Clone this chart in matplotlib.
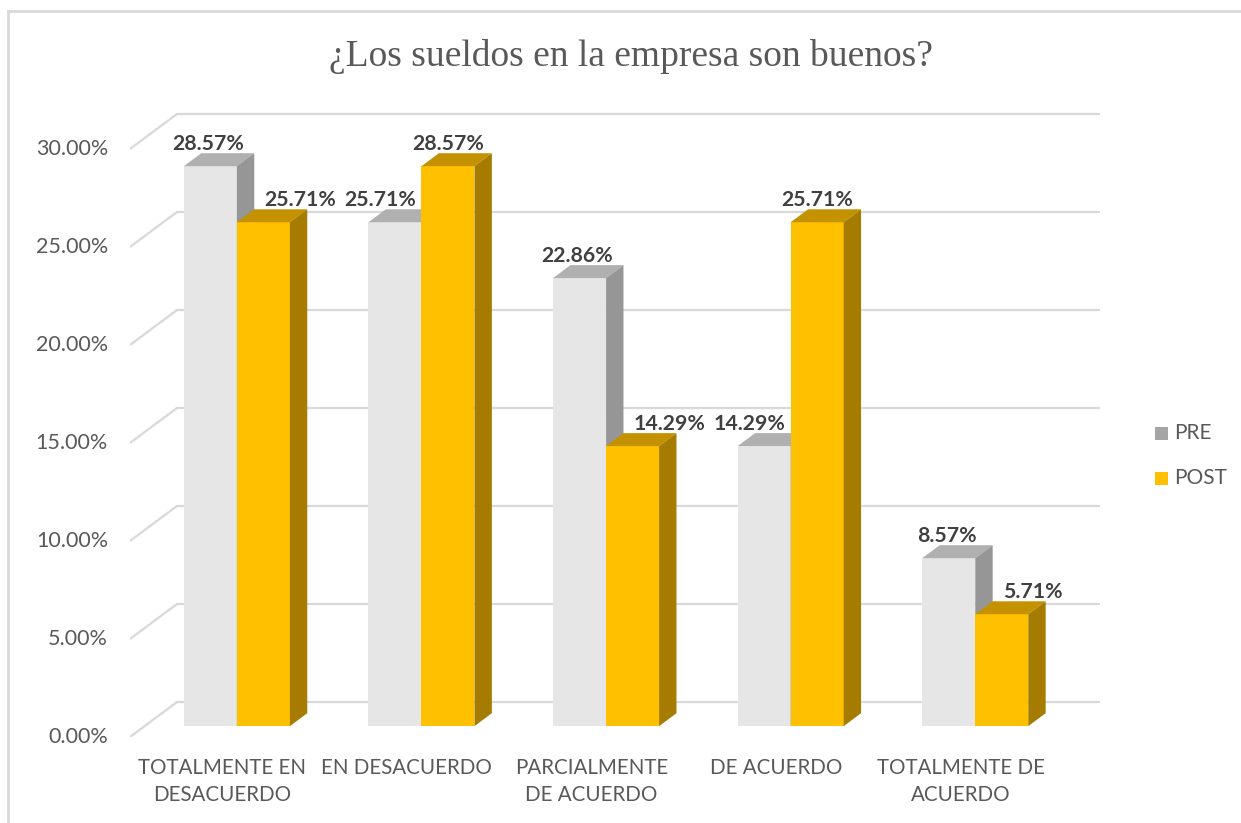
import matplotlib
matplotlib.use("Agg")
import matplotlib.pyplot as plt
from matplotlib.patches import Polygon, Rectangle
from matplotlib.lines import Line2D

# datos
categorias = ["TOTALMENTE EN\nDESACUERDO", "EN DESACUERDO", "PARCIALMENTE\nDE ACUERDO",
              "DE ACUERDO", "TOTALMENTE DE\nACUERDO"]
pre = [28.57, 25.71, 22.86, 14.29, 8.57]
post = [25.71, 28.57, 14.29, 25.71, 5.71]
series = ["PRE", "POST"]
ticks = [0, 5, 10, 15, 20, 25, 30]

W, H = 1241, 823
fig = plt.figure(figsize=(W / 100, H / 100), dpi=100)

# escala en pixeles (frente del plano)
px_cat = 184.6
px_pct = 19.6
x_left, y_zero = 130, 737
DX = 47 / px_cat      # profundidad de la pared del fondo
DY = 35 / px_pct
f0, fd = 0.31, 0.37   # posicion y grosor de las barras en profundidad
bw = 53 / px_cat      # ancho de cada barra
xmax = len(categorias) + DX
ymax = 32

ax = fig.add_axes([x_left / W, (H - y_zero) / H, xmax * px_cat / W, ymax * px_pct / H])
ax.set_xlim(0, xmax)
ax.set_ylim(0, ymax)
ax.axis("off")

grid_col = "#d9d9d9"
txt_col = "#595959"
lab_col = "#404040"
font = "Lato"

# rejilla 3D
for t in ticks:
    ax.plot([0, DX], [t, t + DY], color=grid_col, lw=1.6, zorder=1, solid_capstyle="butt")
    ax.plot([DX, len(categorias) + DX], [t + DY, t + DY], color=grid_col, lw=1.6, zorder=1)
    ax.annotate(f"{t:.2f}%", (0, t), xytext=(-22, 0), textcoords="offset pixels",
                ha="right", va="center", fontsize=15.5, color=txt_col, family=font,
                annotation_clip=False)

colores = {
    "PRE": ("#e7e6e6", "#b0b0b0", "#969696"),
    "POST": ("#ffc000", "#c49200", "#a67c00"),
}

bdx, bdy = fd * DX, fd * DY
y0 = f0 * DY


def barra(x0, v, cols):
    front, top, side = cols
    ax.add_patch(Rectangle((x0, y0), bw, v, facecolor=front, edgecolor="none", zorder=3))
    ax.add_patch(Polygon([(x0, y0 + v), (x0 + bw, y0 + v), (x0 + bw + bdx, y0 + v + bdy),
                          (x0 + bdx, y0 + v + bdy)], closed=True, facecolor=top,
                         edgecolor="none", zorder=3))
    ax.add_patch(Polygon([(x0 + bw, y0), (x0 + bw + bdx, y0 + bdy), (x0 + bw + bdx, y0 + v + bdy),
                          (x0 + bw, y0 + v)], closed=True, facecolor=side,
                         edgecolor="none", zorder=3))


for i, (a, b) in enumerate(zip(pre, post)):
    xc = i + 0.5
    xa = xc - bw + f0 * DX
    xb = xc + f0 * DX
    barra(xa, a, colores["PRE"])
    barra(xb, b, colores["POST"])

    kw = dict(textcoords="offset pixels", va="baseline", fontsize=15.3,
              fontweight="bold", color=lab_col, family=font, zorder=5, annotation_clip=False)
    # etiqueta PRE
    if b > a:
        ax.annotate(f"{a:.2f}%", (xb, y0 + a + bdy), xytext=(-5, 3), ha="right", **kw)
    else:
        ax.annotate(f"{a:.2f}%", (xa + bw / 2, y0 + a + bdy), xytext=(-2, 3), ha="center", **kw)
    # etiqueta POST
    if b < a:
        ax.annotate(f"{b:.2f}%", (xa + bw + bdx, y0 + b + bdy), xytext=(10, 3), ha="left", **kw)
    else:
        ax.annotate(f"{b:.2f}%", (xb + bw / 2, y0 + b + bdy), xytext=(0, 3), ha="center", **kw)

    ax.annotate(categorias[i], (xc, 0), xytext=(0, -21), textcoords="offset pixels",
                ha="center", va="top", fontsize=14.8, color=txt_col, family=font,
                linespacing=1.45, annotation_clip=False)

# leyenda
for k, (nombre, yp) in enumerate(zip(series, [433, 478])):
    fig.add_artist(Rectangle(((1155) / W, (H - yp - 6.5) / H), 13 / W, 13 / H,
                             transform=fig.transFigure, facecolor=["#a5a5a5", "#ffc000"][k],
                             edgecolor="none"))
    fig.text(1174 / W, (H - yp) / H, nombre, ha="left", va="center", fontsize=15,
             color=txt_col, family=font)

# titulo
fig.text(631 / W, 1 - 57 / H, "¿Los sueldos en la empresa son buenos?", ha="center",
         va="center", fontsize=27, color=txt_col, family="Liberation Serif")

# borde del grafico
fig.add_artist(Line2D([8 / W, 1], [1 - 11 / H, 1 - 11 / H], transform=fig.transFigure,
                      color=grid_col, lw=2))
fig.add_artist(Line2D([8 / W, 8 / W], [0, 1 - 11 / H], transform=fig.transFigure,
                      color=grid_col, lw=2))

fig.savefig("out.png", dpi=100, facecolor="white")
